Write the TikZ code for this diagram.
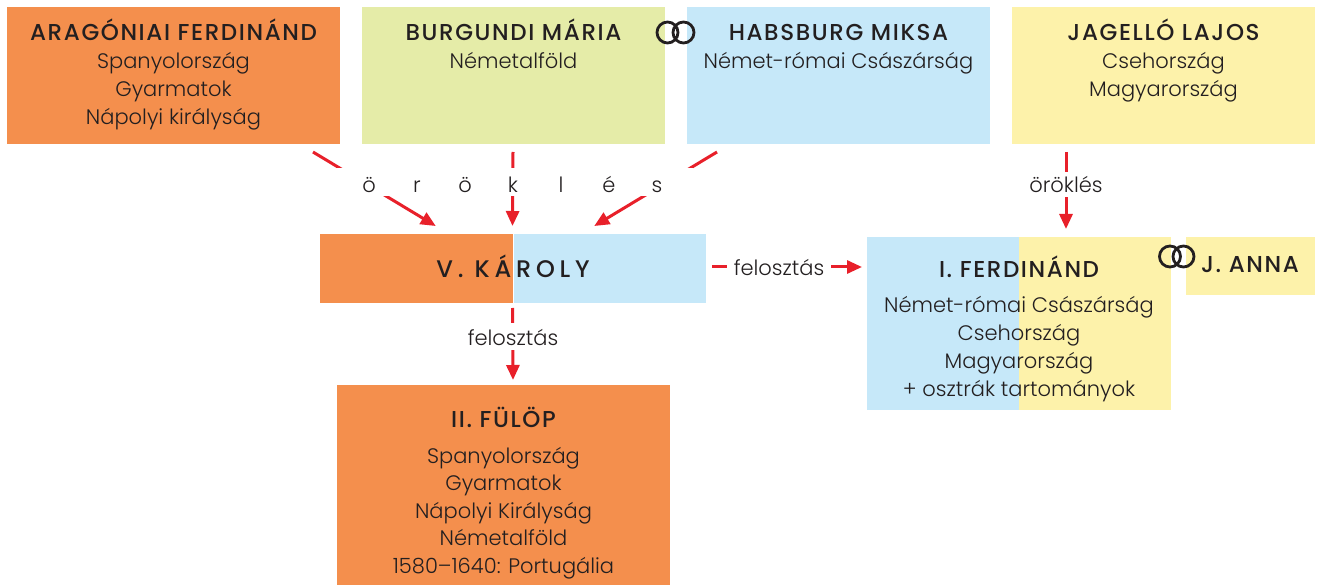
\documentclass[tikz,border=0pt]{standalone}
\usepackage{fontspec}
\setmainfont{Poppins}[UprightFont=* Light, BoldFont=* Medium]
\usetikzlibrary{arrows.meta,calc}
\definecolor{orng}{RGB}{244,143,77}
\definecolor{grn}{RGB}{229,236,168}
\definecolor{blu}{RGB}{198,232,249}
\definecolor{ylw}{RGB}{253,242,170}
\definecolor{ink}{RGB}{35,31,32}
\definecolor{arrred}{RGB}{232,32,42}
\newcommand{\ttl}[1]{{\fontsize{23}{28}\selectfont\bfseries\addfontfeatures{LetterSpace=7}#1}}
\newcommand{\ttlk}[1]{{\fontsize{24}{28}\selectfont\bfseries\addfontfeatures{LetterSpace=20}#1}}
\tikzset{
  box/.style={draw=none, inner sep=0pt, outer sep=0pt, rectangle},
  txt/.style={inner sep=0pt, align=center, anchor=north, text=ink, font=\fontsize{21}{28}\selectfont},
  conn/.style={draw=arrred, line width=3pt, -{Triangle[length=15pt,width=13pt]}},
  lbl/.style={fill=white, inner ysep=0pt, inner xsep=4pt, text=ink, font=\fontsize{21}{28}\selectfont, text depth=0pt},
  rings/.style={draw=ink, line width=2.8pt},
}
\begin{document}
\begin{tikzpicture}[x=1pt,y=-1pt]
\useasboundingbox (0,0) rectangle (1317,585);
% boxes
\node[box, fill=orng, minimum width=333pt, minimum height=137pt] (arag) at (173.5,75.5) {};
\node[box, fill=grn, minimum width=303pt, minimum height=137pt] (burg) at (513.5,75.5) {};
\node[box, fill=blu, minimum width=303pt, minimum height=137pt] (habs) at (838.5,75.5) {};
\node[box, fill=ylw, minimum width=303pt, minimum height=137pt] (jag) at (1163.5,75.5) {};
\node[box, fill=orng, minimum width=192.5pt, minimum height=69pt] (karolyL) at (416.25,268.5) {};
\node[box, fill=blu, minimum width=192.5pt, minimum height=69pt] (karolyR) at (609.75,268.5) {};
\node[box, fill=blu, minimum width=152pt, minimum height=173pt] (ferdL) at (943,323.5) {};
\node[box, fill=ylw, minimum width=152pt, minimum height=173pt] (ferdR) at (1095,323.5) {};
\node[box, fill=ylw, minimum width=129pt, minimum height=58pt] (anna) at (1250.5,266) {};
\node[box, fill=orng, minimum width=333pt, minimum height=205pt] (fulop) at (503.5,487.5) {};
% connectors
\draw[conn] ($(arag.south east)+(-27,8)$) -- ($(karolyL.north)+(19.5,-8)$);
\draw[conn] ($(burg.south east)+(-152,8)$) -- ($(karolyL.north east)+(0,-8)$);
\draw[conn] ($(habs.south west)+(30,8)$) -- ($(karolyR.north)+(-15.5,-8)$);
\draw[conn] ($(jag.south west)+(54,8)$) -- ($(ferdR.north west)+(47,-8)$);
\draw[conn] ($(karolyR.east)+(6,-1.5)$) -- ($(ferdL.north west)+(-5,30)$);
\draw[conn] ($(karolyL.south east)+(0,5)$) -- ($(fulop.north west)+(176,-5)$);
% connector labels
\node[lbl, minimum width=360pt, minimum height=28pt, text height=22pt] (orok1) at (513,182)
  {\makebox[48pt]{ö}\makebox[48pt]{r}\makebox[48pt]{ö}\makebox[48pt]{k}\makebox[48pt]{l}\makebox[48pt]{é}\makebox[48pt]{s}};
\node[lbl, minimum height=25pt, text height=17pt] (orok2) at (1066,184.5) {öröklés};
\node[lbl, minimum width=104pt, minimum height=20pt, text height=18pt] (fel1) at (779,267) {felosztás};
\node[lbl, minimum height=27pt, text height=17pt] (fel2) at (513,336.5) {felosztás};
% texts
\node[txt] (aragT) at (173.5,10) {\rule{0pt}{30pt}\ttl{ARAGÓNIAI FERDINÁND}\\ Spanyolország\\ Gyarmatok\\ Nápolyi királyság};
\node[txt] (burgT) at (513.5,10) {\rule{0pt}{30pt}\ttl{BURGUNDI MÁRIA}\\ Németalföld};
\node[txt] (habsT) at (838.5,10) {\rule{0pt}{30pt}\ttl{HABSBURG MIKSA}\\ Német-római Császárság};
\node[txt] (jagT) at (1163.5,10) {\rule{0pt}{30pt}\ttl{JAGELLÓ LAJOS}\\ Csehország\\ Magyarország};
\node[anchor=base, inner sep=0pt, text=ink] (karolyT) at (513,278) {\ttlk{V. KÁROLY}};
\node[txt] (ferdT) at (1019,247) {\rule{0pt}{30pt}\ttl{I. FERDINÁND}\\[7pt] Német-római Császárság\\ Csehország\\ Magyarország\\ + osztrák tartományok};
\node[anchor=base, inner sep=0pt, text=ink] (annaT) at (1250,273) {\ttl{J. ANNA}};
\node[txt, font=\fontsize{21}{27.5}\selectfont] (fulopT) at (503.5,397) {\rule{0pt}{30pt}\ttl{II. FÜLÖP}\\[8.5pt] Spanyolország\\ Gyarmatok\\ Nápolyi Királyság\\ Németalföld\\ 1580–1640: Portugália};
% rings
\draw[rings] (667.5,32.5) circle (10.5pt) (683.5,32.5) circle (10.5pt);
\draw[rings] (1170,256.5) circle (10.5pt) (1183.5,256.5) circle (10.5pt);
\end{tikzpicture}
\end{document}
